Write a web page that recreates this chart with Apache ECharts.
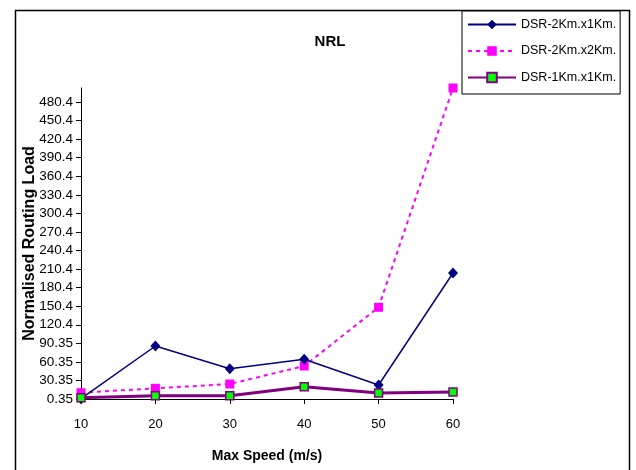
<!DOCTYPE html>
<html>
<head>
<meta charset="utf-8">
<script src="https://cdn.jsdelivr.net/npm/echarts@6/dist/echarts.min.js"></script>
<style>
html,body{margin:0;padding:0;background:#fff;}
#chart{width:636px;height:470px;}
</style>
</head>
<body>
<div id="chart"></div>
<script>
var categories = ['10', '20', '30', '40', '50', '60'];
var seriesNames = ['DSR-2Km.x1Km.', 'DSR-2Km.x2Km.', 'DSR-1Km.x1Km.'];
var dsr2x1 = [0.8, 86, 49.3, 64.5, 23, 204];
var dsr2x2 = [10.5, 17.6, 24.6, 53.7, 148.6, 503];
var dsr1x1 = [2.5, 5.6, 5.6, 20.2, 10, 11.6];
var yTickValues = [0.35, 30.35, 60.35, 90.35, 120.35, 150.35, 180.35, 210.35, 240.35, 270.35, 300.35, 330.35, 360.35, 390.35, 420.35, 450.35, 480.35];
var yTickLabels = ['0.35', '30.35', '60.35', '90.35', '120.4', '150.4', '180.4', '210.4', '240.4', '270.4', '300.4', '330.4', '360.4', '390.4', '420.4', '450.4', '480.4'];

var chart = echarts.init(document.getElementById('chart'), null, {renderer: 'canvas'});
var font = 'Liberation Sans, Arial, sans-serif';
chart.setOption({
  backgroundColor: '#fff',
  animation: false,
  textStyle: {fontFamily: font, color: '#000'},
  graphic: [{
    type: 'rect',
    shape: {x: 15.5, y: 10.5, width: 614, height: 480},
    style: {fill: 'none', stroke: '#000', lineWidth: 1.5},
    z: -1
  }],
  title: {
    text: 'NRL',
    left: 325, top: 29, textAlign: 'center',
    textStyle: {fontFamily: font, fontSize: 15, fontWeight: 'bold', color: '#000'}
  },
  legend: {
    orient: 'vertical',
    left: 462, top: 11,
    padding: [7, 4, 10, 5],
    itemWidth: 48, itemHeight: 12, itemGap: 13.5,
    borderColor: '#000', borderWidth: 1,
    backgroundColor: '#fff',
    textStyle: {fontFamily: font, fontSize: 12.5, color: '#000'},
    data: seriesNames
  },
  grid: {left: 81, right: 183, top: 88, bottom: 71},
  xAxis: {
    type: 'category',
    data: categories,
    boundaryGap: false,
    name: 'Max Speed (m/s)',
    nameLocation: 'middle',
    nameGap: 50,
    nameTextStyle: {fontFamily: font, fontSize: 14, fontWeight: 'bold', color: '#000'},
    axisLine: {lineStyle: {color: '#000', width: 1}},
    axisTick: {show: true, length: 5, alignWithLabel: true, lineStyle: {color: '#000'}},
    axisLabel: {fontFamily: font, fontSize: 13, color: '#000', margin: 19},
    splitLine: {show: false}
  },
  yAxis: {
    type: 'value',
    min: 0.35, max: 503,
    name: 'Normalised Routing Load',
    nameLocation: 'middle',
    nameGap: 43,
    nameMoveOverlap: false,
    nameTextStyle: {fontFamily: font, fontSize: 16, fontWeight: 'bold', color: '#000'},
    axisLine: {show: true, lineStyle: {color: '#000', width: 1}},
    axisTick: {show: true, length: 5, customValues: yTickValues, lineStyle: {color: '#000'}},
    axisLabel: {
      fontFamily: font, fontSize: 13.5, color: '#000', margin: 8,
      customValues: yTickValues,
      formatter: function (v) {
        var i = yTickValues.indexOf(v);
        return i >= 0 ? yTickLabels[i] : '';
      }
    },
    splitLine: {show: false}
  },
  series: [{
    name: seriesNames[0], type: 'line', data: dsr2x1,
    symbol: 'diamond', symbolSize: [10, 11],
    lineStyle: {color: '#000080', width: 1.5},
    itemStyle: {color: '#000080'},
    z: 3
  }, {
    name: seriesNames[1], type: 'line', data: dsr2x2,
    symbol: 'rect', symbolSize: 9,
    lineStyle: {color: '#FF00FF', width: 2, type: [4, 4]},
    itemStyle: {color: '#FF00FF'},
    z: 2
  }, {
    name: seriesNames[2], type: 'line', data: dsr1x1,
    symbol: 'rect', symbolSize: 8,
    lineStyle: {color: '#800080', width: 3},
    itemStyle: {color: '#00FF00', borderColor: '#800080', borderWidth: 1.5},
    z: 4
  }]
});
</script>
</body>
</html>
